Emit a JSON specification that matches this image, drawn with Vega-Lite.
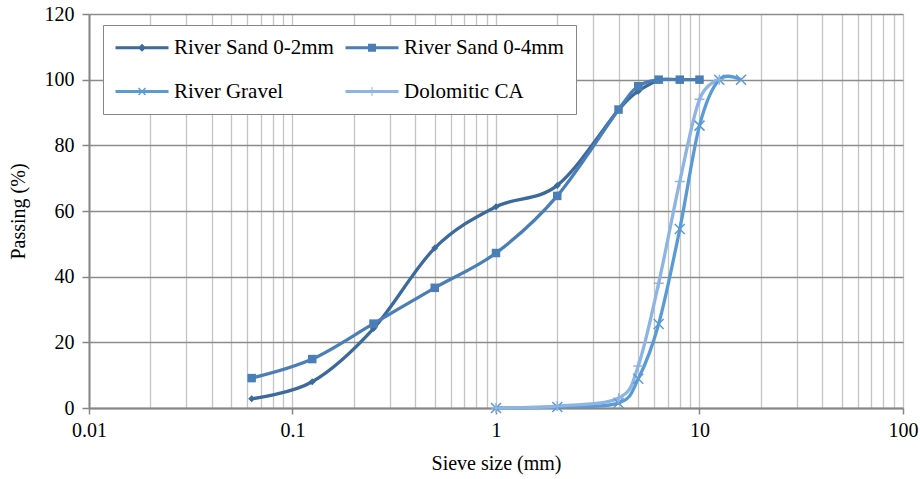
{
  "$schema": "https://vega.github.io/schema/vega-lite/v6.json",
  "width": 814,
  "height": 394,
  "autosize": {"type": "none"},
  "padding": {"left": 89, "top": 14, "right": 17, "bottom": 71},
  "background": "white",
  "config": {"view": {"stroke": null}, "font": "Liberation Serif"},
  "data": {
    "values": [
      {"size": 0.063, "pass": 2.8, "series": "River Sand 0-2mm"},
      {"size": 0.125, "pass": 8.0, "series": "River Sand 0-2mm"},
      {"size": 0.25, "pass": 24.2, "series": "River Sand 0-2mm"},
      {"size": 0.5, "pass": 48.7, "series": "River Sand 0-2mm"},
      {"size": 1, "pass": 61.3, "series": "River Sand 0-2mm"},
      {"size": 2, "pass": 67.8, "series": "River Sand 0-2mm"},
      {"size": 4, "pass": 90.8, "series": "River Sand 0-2mm"},
      {"size": 5, "pass": 96.5, "series": "River Sand 0-2mm"},
      {"size": 6.3, "pass": 100, "series": "River Sand 0-2mm"},
      {"size": 0.063, "pass": 9.1, "series": "River Sand 0-4mm"},
      {"size": 0.125, "pass": 14.9, "series": "River Sand 0-4mm"},
      {"size": 0.25, "pass": 25.7, "series": "River Sand 0-4mm"},
      {"size": 0.5, "pass": 36.6, "series": "River Sand 0-4mm"},
      {"size": 1, "pass": 47.2, "series": "River Sand 0-4mm"},
      {"size": 2, "pass": 64.6, "series": "River Sand 0-4mm"},
      {"size": 4, "pass": 90.9, "series": "River Sand 0-4mm"},
      {"size": 5, "pass": 98.0, "series": "River Sand 0-4mm"},
      {"size": 6.3, "pass": 100, "series": "River Sand 0-4mm"},
      {"size": 8, "pass": 100, "series": "River Sand 0-4mm"},
      {"size": 10, "pass": 100, "series": "River Sand 0-4mm"},
      {"size": 1, "pass": 0, "series": "River Gravel"},
      {"size": 2, "pass": 0.3, "series": "River Gravel"},
      {"size": 4, "pass": 1.5, "series": "River Gravel"},
      {"size": 5, "pass": 8.9, "series": "River Gravel"},
      {"size": 6.3, "pass": 25.6, "series": "River Gravel"},
      {"size": 8, "pass": 54.5, "series": "River Gravel"},
      {"size": 10, "pass": 86, "series": "River Gravel"},
      {"size": 12.5, "pass": 100, "series": "River Gravel"},
      {"size": 16, "pass": 100, "series": "River Gravel"},
      {"size": 1, "pass": 0, "series": "Dolomitic CA"},
      {"size": 2, "pass": 0.6, "series": "Dolomitic CA"},
      {"size": 4, "pass": 3.0, "series": "Dolomitic CA"},
      {"size": 5, "pass": 12.8, "series": "Dolomitic CA"},
      {"size": 6.3, "pass": 38, "series": "Dolomitic CA"},
      {"size": 8, "pass": 69, "series": "Dolomitic CA"},
      {"size": 10, "pass": 94, "series": "Dolomitic CA"},
      {"size": 12.5, "pass": 100, "series": "Dolomitic CA"}
    ]
  },
  "encoding": {
    "x": {"field": "size", "type": "quantitative"},
    "y": {"field": "pass", "type": "quantitative"}
  },
  "layer": [
    {
      "mark": {"type": "line", "interpolate": "cardinal", "tension": 0, "strokeWidth": 3.3},
      "encoding": {
        "x": {
          "field": "size", "type": "quantitative",
          "scale": {"type": "log", "domain": [0.01, 100]},
          "axis": {
            "title": "Sieve size (mm)",
            "values": [0.01,0.02,0.03,0.04,0.05,0.06,0.07,0.08,0.09,0.1,0.2,0.3,0.4,0.5,0.6,0.7,0.8,0.9,1,2,3,4,5,6,7,8,9,10,20,30,40,50,60,70,80,90,100],
            "format": "~g",
            "labelExpr": "indexof([0.01,0.1,1,10,100], datum.value) >= 0 ? datum.label : ''",
            "tickOpacity": {"condition": {"test": "indexof([0.01,0.1,1,10,100], datum.value) >= 0", "value": 1}, "value": 0},
            "grid": true, "gridColor": "#c4c4c4", "gridWidth": 1.3,
            "domainColor": "#868686", "domainWidth": 2,
            "tickColor": "#868686", "tickWidth": 1.5, "tickSize": 6,
            "labelFont": "Liberation Serif", "labelFontSize": 20, "labelColor": "black",
            "labelPadding": 6, "labelOverlap": false, "labelFlush": false,
            "titleFont": "Liberation Serif", "titleFontSize": 20, "titleFontWeight": "normal",
            "titleColor": "black", "titlePadding": 13
          }
        },
        "y": {
          "field": "pass", "type": "quantitative",
          "scale": {"domain": [0, 120]},
          "axis": {
            "title": "Passing (%)",
            "values": [0, 20, 40, 60, 80, 100, 120],
            "grid": true, "gridColor": "#8c8c8c", "gridWidth": 1.5,
            "domainColor": "#868686", "domainWidth": 2,
            "tickColor": "#868686", "tickWidth": 1.5, "tickSize": 7,
            "labelFont": "Liberation Serif", "labelFontSize": 20, "labelColor": "black",
            "labelPadding": 8,
            "titleFont": "Liberation Serif", "titleFontSize": 20, "titleFontWeight": "normal",
            "titleColor": "black", "titlePadding": 16
          }
        },
        "color": {
          "field": "series", "type": "nominal",
          "scale": {
            "domain": ["River Sand 0-2mm", "River Sand 0-4mm", "River Gravel", "Dolomitic CA"],
            "range": ["#3b6a9b", "#4a7eb7", "#5b9bd5", "#8eb4e3"]
          },
          "legend": {
            "title": null,
            "orient": "none", "legendX": 14, "legendY": 11,
            "direction": "horizontal",
            "columns": 2,
            "padding": 12, "rowPadding": 22, "columnPadding": 11,
            "symbolSize": 400, "symbolStrokeWidth": 0, "labelOffset": 38,
            "labelFont": "Liberation Serif", "labelFontSize": 21, "labelColor": "black", "labelLimit": 400,
            "strokeColor": "#868686", "fillColor": "white",
            "encode": {
              "symbols": {
                "update": {
                  "shape": {"signal": "datum.value === 'River Sand 0-2mm' ? 'M-1,-0.15H4.3V0.15H-1Z M1.65,-0.4L2.05,0L1.65,0.4L1.25,0Z' : datum.value === 'River Sand 0-4mm' ? 'M-1,-0.15H4.3V0.15H-1Z M1.25,-0.4H2.05V0.4H1.25Z' : datum.value === 'River Gravel' ? 'M-1,-0.15H4.3V0.15H-1Z M1.25,-0.3L1.35,-0.4L2.05,0.3L1.95,0.4Z M1.95,-0.4L2.05,-0.3L1.35,0.4L1.25,0.3Z' : 'M-1,-0.15H4.3V0.15H-1Z M1.6,-0.45H1.7V0.45H1.6Z'"},
                  "fill": {"scale": "color", "field": "value"},
                  "stroke": {"value": "transparent"},
                  "strokeWidth": {"value": 0},
                  "opacity": {"value": 1}
                }
              }
            }
          }
        }
      }
    },
    {
      "transform": [{"filter": "datum.series === 'River Sand 0-2mm'"}],
      "mark": {"type": "point", "shape": "M0,-0.7L0.7,0L0,0.7L-0.7,0Z", "filled": true, "size": 100, "color": "#3b6a9b", "strokeWidth": 1, "opacity": 1}
    },
    {
      "transform": [{"filter": "datum.series === 'River Sand 0-4mm'"}],
      "mark": {"type": "point", "shape": "M-0.85,-0.85H0.85V0.85H-0.85Z", "filled": true, "size": 100, "color": "#4a7eb7", "opacity": 1}
    },
    {
      "transform": [{"filter": "datum.series === 'River Gravel'"}],
      "mark": {"type": "point", "shape": "M-1,-1L1,1M1,-1L-1,1", "filled": false, "size": 100, "color": "#5b9bd5", "strokeWidth": 1.5, "opacity": 1}
    },
    {
      "transform": [{"filter": "datum.series === 'Dolomitic CA'"}],
      "mark": {"type": "point", "shape": "M-1,0H1M0,-1V1", "filled": false, "size": 100, "color": "#8eb4e3", "strokeWidth": 1.5, "opacity": 1}
    }
  ]
}
